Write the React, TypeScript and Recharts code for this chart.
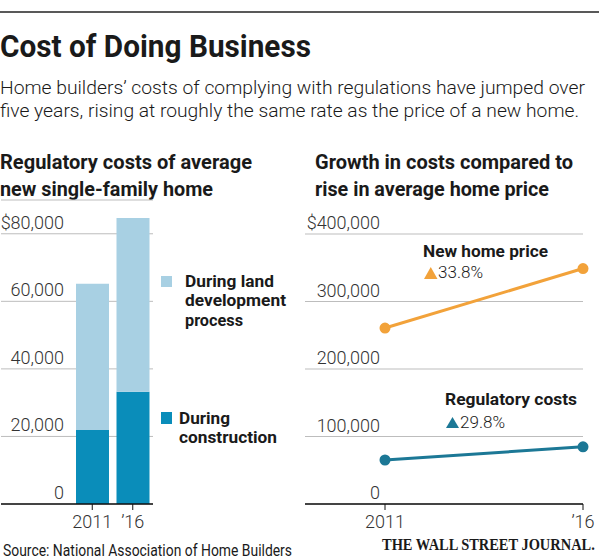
import React from 'react';
import { BarChart, Bar, LineChart, Line, XAxis, YAxis, CartesianGrid } from 'recharts';

// values (NAHB survey)
const years = ['2011', '\u201916'];
const constructionCosts = [21900, 33200];
const landDevCosts = [43300, 51500];
const newHomePrice = [260700, 348800];
const regulatoryCosts = [65200, 84700];

const leftTicks = [0, 20000, 40000, 60000, 80000];
const rightTicks = [0, 100000, 200000, 300000, 400000];

const LIGHT_BLUE = '#a8d0e3';
const DARK_BLUE = '#0a8dba';
const ORANGE = '#f2a23a';
const TEAL = '#1c7896';
const GRID = '#bdbdbd';
const SANS = 'Roboto, "Noto Sans", sans-serif';

const barData = years.map((year, i) => ({
    year,
    construction: constructionCosts[i],
    land: landDevCosts[i],
}));

const lineData = years.map((year, i) => ({
    year,
    price: newHomePrice[i],
    regulatory: regulatoryCosts[i],
}));

const fmt = (v: number, top: number) =>
    v === top ? `$${v.toLocaleString('en-US')}` : v.toLocaleString('en-US');

const makeYTick = (labelX: number, top: number) => (props: any) => {
    const { y, payload } = props;
    return (
        <text x={labelX} y={y - 5} textAnchor="end" fontFamily={SANS} fontWeight={300} fontSize={18} fill="#333">
            {fmt(payload.value, top)}
        </text>
    );
};

const XTick = (props: any) => {
    const { x, y, payload } = props;
    return (
        <text x={x} y={y + 16} textAnchor="middle" fontFamily={SANS} fontWeight={300} fontSize={18} fill="#333">
            {payload.value}
        </text>
    );
};

type TProps = {
    x: number;
    y: number;
    w?: number;
    size: number;
    weight?: number;
    family?: string;
    children: React.ReactNode;
};

const T = ({ x, y, w, size, weight = 400, family = SANS, children }: TProps) => (
    <text
        x={x}
        y={y}
        fontFamily={family}
        fontSize={size}
        fontWeight={weight}
        fill="#1a1a1a"
        textLength={w}
        lengthAdjust={w ? 'spacingAndGlyphs' : undefined}
    >
        {children}
    </text>
);

export default function App() {
    return (
        <div style={{ position: 'absolute', left: 0, top: 0, width: 600, height: 560, background: '#fff', overflow: 'hidden' }}>
            {/* header texts */}
            <svg width={600} height={200} style={{ position: 'absolute', left: 0, top: 0 }}>
                <line x1={0} x2={599} y1={12} y2={12} stroke="#222" strokeWidth={1.5} />
                <T x={0} y={57} w={311} size={32} weight={700}>Cost of Doing Business</T>
                <T x={0} y={94} w={585} size={19} weight={300}>Home builders’ costs of complying with regulations have jumped over</T>
                <T x={0} y={117} w={579} size={19} weight={300}>five years, rising at roughly the same rate as the price of a new home.</T>
                <T x={0} y={169} w={252} size={21} weight={700}>Regulatory costs of average</T>
                <T x={0} y={196} w={213} size={21} weight={700}>new single-family home</T>
                <T x={315} y={169} w={258} size={21} weight={700}>Growth in costs compared to</T>
                <T x={315} y={196} w={234} size={21} weight={700}>rise in average home price</T>
            </svg>

            <div style={{ position: 'absolute', left: 0, top: 180 }}>
                <BarChart width={160} height={354} data={barData} margin={{ top: 20, right: 7, bottom: 0, left: 0 }}>
                    <CartesianGrid vertical={false} stroke={GRID} />
                    <XAxis
                        dataKey="year"
                        height={30}
                        padding={{ left: 71, right: 0 }}
                        axisLine={{ stroke: '#111', strokeWidth: 1.5 }}
                        tickLine={{ stroke: '#111' }}
                        tickSize={6}
                        tick={XTick}
                    />
                    <YAxis width={1} domain={[0, 90000]} ticks={leftTicks} axisLine={false} tickLine={false} tick={makeYTick(64, 80000)} />
                    <Bar dataKey="construction" stackId="a" fill={DARK_BLUE} barSize={33} isAnimationActive={false} />
                    <Bar dataKey="land" stackId="a" fill={LIGHT_BLUE} barSize={33} isAnimationActive={false} />
                </BarChart>
            </div>

            <div style={{ position: 'absolute', left: 300, top: 200 }}>
                <LineChart width={300} height={334} data={lineData} margin={{ top: 34, right: 17, bottom: 0, left: 4 }}>
                    <CartesianGrid vertical={false} stroke={GRID} />
                    <XAxis
                        dataKey="year"
                        height={30}
                        padding={{ left: 80, right: 0 }}
                        axisLine={{ stroke: '#111', strokeWidth: 1.5 }}
                        tickLine={{ stroke: '#111' }}
                        tickSize={6}
                        tick={XTick}
                    />
                    <YAxis width={1} domain={[0, 400000]} ticks={rightTicks} axisLine={false} tickLine={false} tick={makeYTick(80, 400000)} />
                    <Line dataKey="price" stroke={ORANGE} strokeWidth={3} dot={{ r: 4, fill: ORANGE, stroke: ORANGE }} isAnimationActive={false} />
                    <Line dataKey="regulatory" stroke={TEAL} strokeWidth={3} dot={{ r: 4, fill: TEAL, stroke: TEAL }} isAnimationActive={false} />
                </LineChart>
            </div>

            {/* legend, annotations, footer */}
            <svg width={600} height={560} style={{ position: 'absolute', left: 0, top: 0, pointerEvents: 'none' }}>
                <rect x={161} y={276} width={11} height={11} fill={LIGHT_BLUE} />
                <T x={185} y={287} w={89} size={17} weight={700}>During land</T>
                <T x={185} y={306} w={101} size={17} weight={700}>development</T>
                <T x={185} y={326} w={58} size={17} weight={700}>process</T>
                <rect x={161} y={412} width={11} height={12} fill={DARK_BLUE} />
                <T x={179} y={424} w={51} size={17} weight={700}>During</T>
                <T x={179} y={443} w={98} size={17} weight={700}>construction</T>

                <T x={423} y={257} w={125} size={17} weight={700}>New home price</T>
                <polygon points="424,279 437.5,279 430.75,267" fill={ORANGE} />
                <T x={438} y={278} w={45} size={16} weight={300}>33.8%</T>
                <T x={445} y={405} w={132} size={17} weight={700}>Regulatory costs</T>
                <polygon points="446,428 459,428 452.5,417" fill={TEAL} />
                <T x={460} y={428} w={45} size={16} weight={300}>29.8%</T>

                <T x={3} y={556} w={289} size={16} weight={400}>Source: National Association of Home Builders</T>
                <g transform="translate(382,550) scale(0.8,1)">
                    <T x={0} y={0} w={266} size={17} weight={700} family='"Liberation Serif", serif'>THE WALL STREET JOURNAL.</T>
                </g>
            </svg>
        </div>
    );
}
